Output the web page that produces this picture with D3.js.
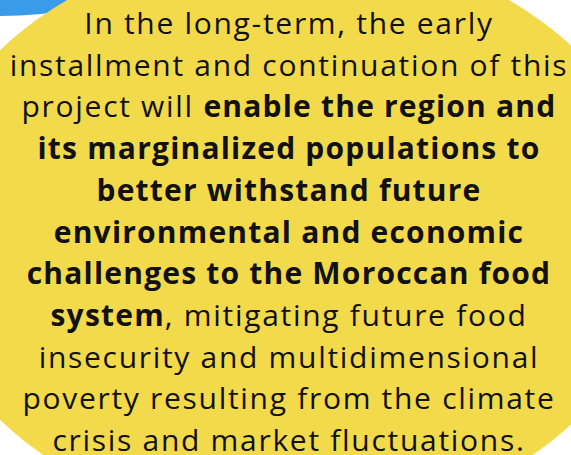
<!DOCTYPE html>
<html>
<head>
<meta charset="utf-8">
<script src="https://cdn.jsdelivr.net/npm/d3@7"></script>
<style>
  html, body { margin: 0; padding: 0; background: #fff; overflow: hidden; }
</style>
</head>
<body>
<div id="chart"></div>
<script>
var width  = 571;
var height = 455;

// text lines, each a list of [text, bold]
var lines = [
  [["In the long-term, the early", false]],
  [["installment and continuation of this", false]],
  [["project will ", false], ["enable the region and", true]],
  [["its marginalized populations to", true]],
  [["better withstand future", true]],
  [["environmental and economic", true]],
  [["challenges to the Moroccan food", true]],
  [["system", true], [", mitigating future food", false]],
  [["insecurity and multidimensional", false]],
  [["poverty resulting from the climate", false]],
  [["crisis and market fluctuations.", false]]
];

var svg = d3.select("#chart")
    .append("svg")
    .attr("width", width)
    .attr("height", height);

// blue blob peeking in the corner
svg.append("circle")
    .attr("cx", 0)
    .attr("cy", -400)
    .attr("r", 416)
    .attr("fill", "#3a9bea");

// yellow disc
svg.append("ellipse")
    .attr("cx", 288)
    .attr("cy", 235)
    .attr("rx", 372)
    .attr("ry", 292)
    .attr("fill", "#f2da4a");

var y = d3.scaleLinear()
    .domain([0, lines.length - 1])
    .range([34, 451]);

var text = svg.selectAll("text.line")
    .data(lines)
    .enter()
    .append("text")
    .attr("class", "line")
    .attr("x", 289)
    .attr("y", function(d, i) { return y(i); })
    .attr("text-anchor", "middle")
    .style("font-family", "'Open Sans', sans-serif")
    .style("font-size", "30px")
    .style("fill", "#111");

text.selectAll("tspan")
    .data(function(d) { return d; })
    .enter()
    .append("tspan")
    .style("font-weight", function(d) { return d[1] ? 700 : 400; })
    .style("letter-spacing", function(d) { return d[1] ? "1.2px" : "1.7px"; })
    .text(function(d) { return d[0]; });
</script>
</body>
</html>
